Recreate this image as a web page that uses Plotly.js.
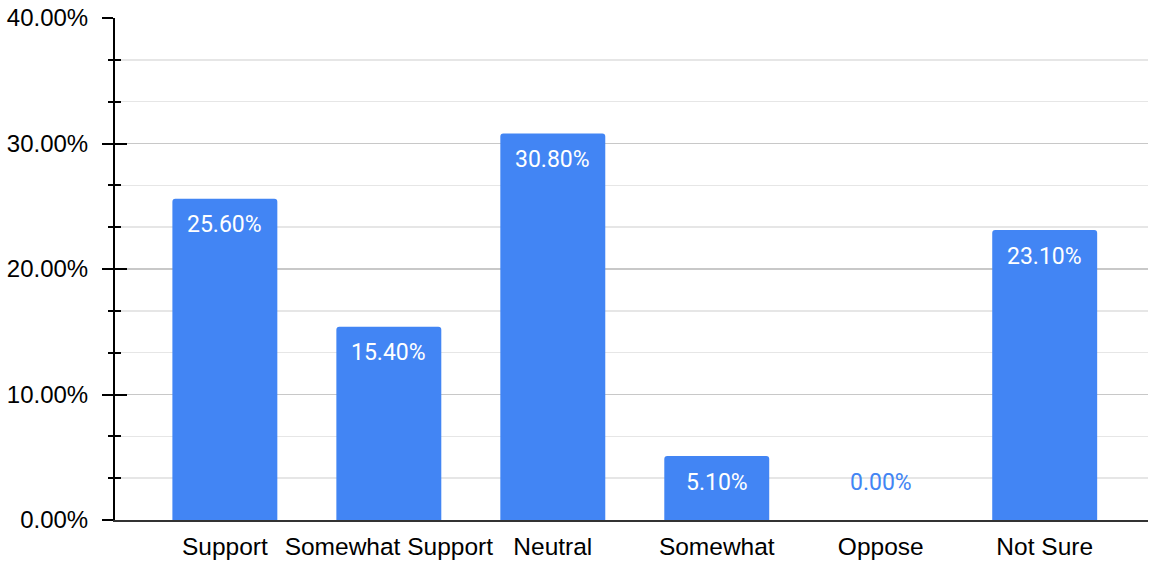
<!DOCTYPE html>
<html>
<head>
<meta charset="utf-8">
<script src="https://cdn.plot.ly/plotly-3.0.1.min.js"></script>
<style>html,body{margin:0;padding:0;background:#fff;}#chart{width:1150px;height:563px;}</style>
</head>
<body>
<div id="chart"></div>
<script>
const categories = ["Support", "Somewhat Support", "Neutral", "Somewhat", "Oppose", "Not Sure"];
const values = [25.6, 15.4, 30.8, 5.1, 0.0, 23.1];
const yTickVals = [0, 10, 20, 30, 40];
const yTickText = ["0.00%", "10.00%", "20.00%", "30.00%", "40.00%"];

const barColor = "#4285F4";

const trace = {
  type: "bar",
  x: categories,
  y: values,
  width: 0.64,
  marker: {color: barColor, cornerradius: 3},
  hoverinfo: "none"
};

const annotations = values.map((v, i) => ({
  x: categories[i],
  y: v,
  xref: "x",
  yref: "y",
  text: v.toFixed(2) + "%",
  showarrow: false,
  yanchor: "middle",
  yshift: v > 0 ? -26 : 38,
  font: {family: "Roboto", size: 23, color: v > 0 ? "#ffffff" : barColor}
}));

const layout = {
  width: 1150,
  height: 563,
  margin: {l: 115, r: 2, t: 18, b: 43},
  paper_bgcolor: "#ffffff",
  plot_bgcolor: "#ffffff",
  showlegend: false,
  xaxis: {
    type: "category",
    range: [-0.67, 5.63],
    showgrid: false,
    showline: true,
    linecolor: "#333333",
    linewidth: 1.5,
    ticks: "",
    ticklabelstandoff: 4,
    tickfont: {family: "Liberation Sans, Arial, sans-serif", size: 24.5, color: "#000000"},
    zeroline: false,
    fixedrange: true
  },
  yaxis: {
    range: [0, 40],
    tickmode: "array",
    tickvals: yTickVals,
    ticktext: yTickText,
    ticks: "outside",
    ticklen: 11,
    tickwidth: 2,
    tickcolor: "#000000",
    ticklabelstandoff: 9,
    showline: true,
    linecolor: "#000000",
    linewidth: 2,
    showgrid: true,
    gridcolor: "#c8c8c8",
    gridwidth: 1.5,
    zeroline: false,
    tickfont: {family: "Liberation Sans, Arial, sans-serif", size: 24, color: "#000000"},
    minor: {
      dtick: 10 / 3,
      tick0: 0,
      ticks: "outside",
      ticklen: 5,
      tickwidth: 2,
      tickcolor: "#000000",
      showgrid: true,
      gridcolor: "#e6e6e6",
      gridwidth: 1.5
    },
    fixedrange: true
  },
  yaxis2: {
    overlaying: "y",
    side: "left",
    range: [0, 40],
    tickmode: "array",
    tickvals: yTickVals,
    ticks: "inside",
    ticklen: 12,
    tickwidth: 2,
    tickcolor: "#000000",
    showticklabels: false,
    showgrid: false,
    showline: false,
    zeroline: false,
    minor: {
      dtick: 10 / 3,
      tick0: 0,
      ticks: "inside",
      ticklen: 6,
      tickwidth: 2,
      tickcolor: "#000000",
      showgrid: false
    },
    fixedrange: true
  },
  annotations: annotations,
  bargap: 0.36
};

const dummy = {type: "scatter", x: [categories[0]], y: [0], yaxis: "y2", mode: "markers", marker: {opacity: 0}, hoverinfo: "none"};

Plotly.newPlot("chart", [trace, dummy], layout, {displayModeBar: false, staticPlot: true});
</script>
</body>
</html>
